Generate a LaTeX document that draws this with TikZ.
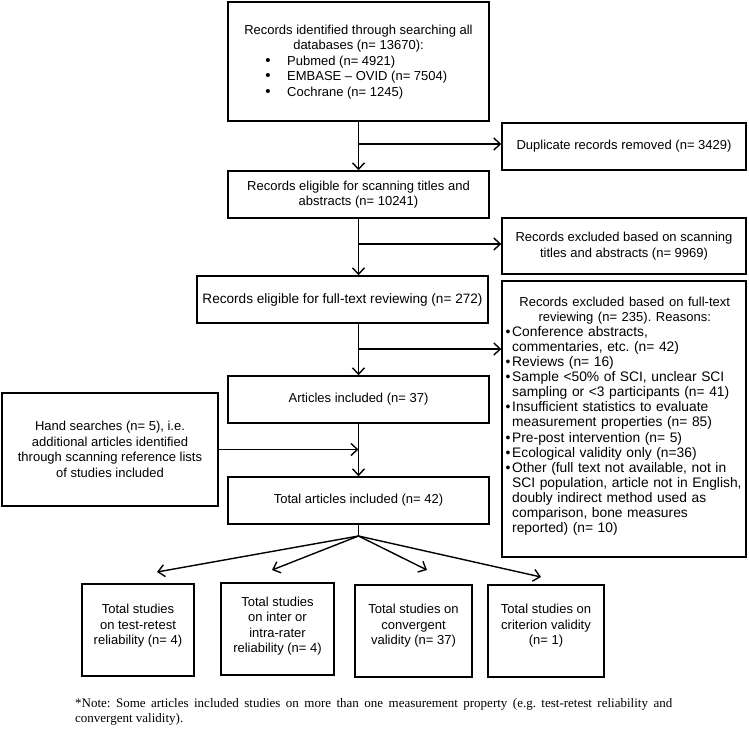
\documentclass[tikz,border=0pt]{standalone}
\usepackage{fontspec}
\setmainfont{Liberation Sans}
\newfontfamily\notefont{Liberation Serif}
\usetikzlibrary{arrows.meta}
\frenchspacing
\newcommand{\bul}{\makebox[6.5pt][l]{\textbullet}}
\newcommand{\cont}{\hspace*{6.5pt}}
\begin{document}
\begin{tikzpicture}[x=1pt,y=-1pt,
  box/.style={draw, line width=1.4pt, inner sep=0pt},
  txt/.style={font=\fontsize{13}{15.5}\selectfont, align=center, inner sep=0pt},
  arr/.style={-{Straight Barb[length=6.5pt,width=12pt,line width=1.4pt]}, line width=1.4pt},
  plain/.style={line width=1.4pt}]
\useasboundingbox (0,0) rectangle (749,728);

% boxes
\node[box, minimum width=261pt, minimum height=119pt] (idf) at (358.5,61.5) {};
\node[txt] (idf1) at (358.5,31) {Records identified through searching all};
\node[txt] (idf2) at (358.5,46) {databases (n= 13670):};
\node[txt, font=\fontsize{15}{15.5}\selectfont] (idfb1) at (268,62) {\textbullet};
\node[txt, font=\fontsize{15}{15.5}\selectfont] (idfb2) at (268,77) {\textbullet};
\node[txt, font=\fontsize{15}{15.5}\selectfont] (idfb3) at (268,93) {\textbullet};
\node[txt, anchor=west] (idfi1) at (287,62) {Pubmed (n= 4921)};
\node[txt, anchor=west] (idfi2) at (287,77) {EMBASE -- OVID (n= 7504)};
\node[txt, anchor=west] (idfi3) at (287,93) {Cochrane (n= 1245)};

\node[box, txt, minimum width=244pt, minimum height=47pt] (dup) at (624,146.5) {Duplicate records removed (n= 3429)};
\node[box, txt, minimum width=261pt, minimum height=47pt] (elig) at (358.5,194.5) {Records eligible for scanning titles and\\abstracts (n= 10241)};
\node[box, txt, minimum width=244pt, minimum height=56pt] (exs) at (624,246) {Records excluded based on scanning\\titles and abstracts (n= 9969)};
\node[box, txt, font=\fontsize{13.6}{15.5}\selectfont, minimum width=291pt, minimum height=47pt] (full) at (342.5,299.5) {Records eligible for full-text reviewing (n= 272)};

\node[box, minimum width=244pt, minimum height=276pt] (exf) at (624,419) {};
\node[inner sep=0pt, anchor=north west, text width=238pt, align=left,
      font=\fontsize{13.8}{15.1}\selectfont] (exft) at (505.5,296.5) {%
\makebox[238pt][c]{\fontsize{13}{15.1}\selectfont Records excluded based on full-text}\\
\makebox[238pt][c]{\fontsize{13}{15.1}\selectfont reviewing (n= 235). Reasons:}\\
\bul Conference abstracts,\\
\cont commentaries, etc. (n= 42)\\
\bul Reviews (n= 16)\\
\bul Sample <50\% of SCI, unclear SCI\\
\cont sampling or <3 participants (n= 41)\\
\bul Insufficient statistics to evaluate\\
\cont measurement properties (n= 85)\\
\bul Pre-post intervention (n= 5)\\
\bul Ecological validity only (n=36)\\
\bul Other (full text not available, not in\\
\cont SCI population, article not in English,\\
\cont doubly indirect method used as\\
\cont comparison, bone measures\\
\cont reported) (n= 10)};

\node[box, txt, minimum width=261pt, minimum height=47pt] (art) at (358.5,399.5) {Articles included (n= 37)};
\node[box, txt, minimum width=216pt, minimum height=113pt] (hand) at (110,449.5) {Hand searches (n= 5), i.e.\\additional articles identified\\through scanning reference lists\\of studies included};
\node[box, txt, minimum width=261pt, minimum height=47pt] (tot) at (358.5,500.5) {Total articles included (n= 42)};

\node[box, minimum width=112pt, minimum height=92pt] (b1) at (138,630) {};
\node[box, minimum width=113pt, minimum height=92pt] (b2) at (277.5,629) {};
\node[box, minimum width=117pt, minimum height=92pt] (b3) at (413.5,631) {};
\node[box, minimum width=116pt, minimum height=92pt] (b4) at (546,631) {};
\node[txt] (b1t) at ([yshift=4pt]b1.center) {Total studies\\on test-retest\\reliability (n= 4)};
\node[txt] (b2t) at ([yshift=3pt]b2.center) {Total studies\\on inter or\\intra-rater\\reliability (n= 4)};
\node[txt] (b3t) at ([yshift=5pt]b3.center) {Total studies on\\convergent\\validity (n= 37)};
\node[txt] (b4t) at ([yshift=5pt]b4.center) {Total studies on\\criterion validity\\(n= 1)};

% connectors
\draw[arr] (idf.south) -- (elig.north);
\coordinate (j1) at (358.5,144);
\draw[arr] (j1) -- (j1 -| dup.west);
\draw[arr] (elig.south) -- (elig.south |- full.north);
\coordinate (j2) at (358.5,244);
\draw[arr] (j2) -- (j2 -| exs.west);
\coordinate (fs) at (elig.south |- full.south);
\draw[arr] (fs) -- (art.north);
\coordinate (j3) at (358.5,349);
\draw[arr] (j3) -- (j3 -| exf.west);
\draw[arr] (art.south) -- (tot.north);
\draw[arr] (hand.east) -- (hand.east -| art.south);
\coordinate (j4) at (358.5,536);
\draw[plain] (tot.south) -- (j4);
\coordinate (t1) at (157,572);
\coordinate (t2) at (272,570);
\coordinate (t3) at (427,570);
\coordinate (t4) at (541,577);
\draw[arr] (j4) -- (t1);
\draw[arr] (j4) -- (t2);
\draw[arr] (j4) -- (t3);
\draw[arr] (j4) -- (t4);

% note
\node[inner sep=0pt, anchor=west, font=\notefont\fontsize{13}{15}\selectfont] (note1) at (75,704) {\makebox[597pt][s]{*Note: Some articles included studies on more than one measurement property (e.g. test-retest reliability and}};
\node[inner sep=0pt, anchor=west, font=\notefont\fontsize{13}{15}\selectfont] (note2) at (75,719) {convergent validity).};
\end{tikzpicture}
\end{document}
